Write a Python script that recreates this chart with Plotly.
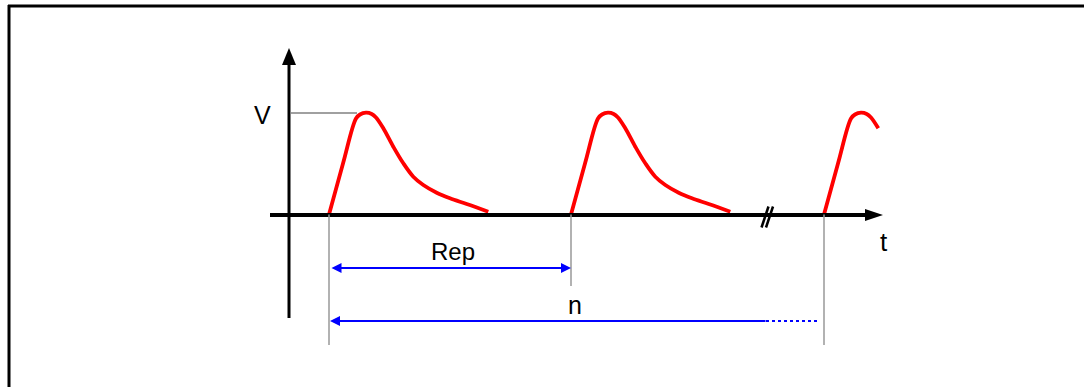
import plotly.graph_objects as go

# units: t to the right of the V axis, v above the t axis (roughly screen pixels)
pulse_t = [0, 14, 27, 31, 37, 42.7, 47, 54.3, 64.3, 74.3, 84.3, 94.3, 107.7, 121, 137.7, 159.3]
pulse_v = [0, 51, 96, 100, 101.8, 100.5, 97, 86.2, 67.8, 51.2, 37.8, 29.5, 21.8, 16.2, 10.5, 2.8]
pulse_starts = [40, 282, 535]
pulse_npts = [16, 16, 8]  # last pulse is cut off at the edge
peak_v = 101.5
break_t = 478

fig = go.Figure()

for t0, npts in zip(pulse_starts, pulse_npts):
    fig.add_trace(go.Scatter(
        x=[t0 + t for t in pulse_t[:npts]], y=pulse_v[:npts],
        mode="lines", line=dict(color="#ff0000", width=3.8, shape="spline", smoothing=1.0),
        hoverinfo="skip"))

black = "#000000"
gray = "#999999"
blue = "#0000ff"

shapes = []
# frame of the figure box (top and left edges visible)
shapes.append(dict(type="line", xref="paper", yref="paper", x0=8 / 1084, x1=1, y0=1 - 6 / 387, y1=1 - 6 / 387,
                   line=dict(color=black, width=3)))
shapes.append(dict(type="line", xref="paper", yref="paper", x0=9 / 1084, x1=9 / 1084, y0=0, y1=1 - 5 / 387,
                   line=dict(color=black, width=3)))
# axes
shapes.append(dict(type="line", x0=0, x1=0, y0=-103.5, y1=152, line=dict(color=black, width=3)))
shapes.append(dict(type="path", path="M 0 166.5 L -7 149.5 L 7 149.5 Z", fillcolor=black, line=dict(width=0)))
shapes.append(dict(type="line", x0=-19, x1=580, y0=-0.5, y1=-0.5, line=dict(color=black, width=4)))
shapes.append(dict(type="path", path="M 594 -0.5 L 576 -6.5 L 576 5.5 Z", fillcolor=black, line=dict(width=0)))
# break mark on the t axis
for dx in [0, 4.5]:
    shapes.append(dict(type="line", x0=break_t - 5.5 + dx, x1=break_t + 1.5 + dx, y0=-13, y1=8,
                       line=dict(color=black, width=2.5)))
# V level guide
shapes.append(dict(type="line", x0=1, x1=68, y0=peak_v, y1=peak_v, line=dict(color="#808080", width=1.5)))
# gray markers down from pulse starts
shapes.append(dict(type="line", x0=pulse_starts[0], x1=pulse_starts[0], y0=0, y1=-130.5, line=dict(color=gray, width=1.5)))
shapes.append(dict(type="line", x0=pulse_starts[1], x1=pulse_starts[1], y0=0, y1=-71.5, line=dict(color=gray, width=1.5)))
shapes.append(dict(type="line", x0=pulse_starts[2], x1=pulse_starts[2], y0=0, y1=-130.5, line=dict(color=gray, width=1.5)))
# dotted tail of the n arrow
shapes.append(dict(type="line", x0=break_t - 1, x1=pulse_starts[2] - 4, y0=-106.5, y1=-106.5,
                   line=dict(color=blue, width=2, dash="dot")))
fig.update_layout(shapes=shapes)

font = dict(family="Arial, Liberation Sans, sans-serif", color=black)
ann = []
# Rep double arrow
ann.append(dict(x=pulse_starts[1], y=-53.5, ax=pulse_starts[0] + 1, ay=-53.5, xref="x", yref="y", axref="x", ayref="y",
                text="", showarrow=True, arrowhead=2, arrowsize=1, arrowwidth=2, arrowcolor=blue,
                arrowside="end+start", standoff=0, startstandoff=0, startarrowhead=2))
# n arrow, solid part with start head
ann.append(dict(x=pulse_starts[0] + 1, y=-106.5, ax=break_t, ay=-106.5, xref="x", yref="y", axref="x", ayref="y",
                text="", showarrow=True, arrowhead=2, arrowsize=1, arrowwidth=2, arrowcolor=blue, standoff=0))
ann.append(dict(x=pulse_starts[2], y=-106.5, ax=pulse_starts[2] - 4, ay=-106.5, xref="x", yref="y", axref="x", ayref="y",
                text="", showarrow=True, arrowhead=2, arrowsize=1, arrowwidth=2, arrowcolor=blue, standoff=0))
# labels
ann.append(dict(x=-27, y=100, text="V", showarrow=False, font=dict(size=25, **font)))
ann.append(dict(x=595, y=-27.5, text="t", showarrow=False, font=dict(size=26, **font)))
ann.append(dict(x=164, y=-36.5, text="Rep", showarrow=False, font=dict(size=24, **font)))
ann.append(dict(x=286, y=-90, text="n", showarrow=False, font=dict(size=25, **font)))
fig.update_layout(annotations=ann)

fig.update_layout(
    width=1084, height=387,
    margin=dict(l=0, r=0, t=0, b=0),
    paper_bgcolor="white", plot_bgcolor="white",
    showlegend=False,
    xaxis=dict(range=[-289, 795], visible=False, fixedrange=True),
    yaxis=dict(range=[-172.5, 214.5], visible=False, fixedrange=True),
)

# drop the page's default 8px body margin so the figure sits at the window corner
fig.write_html("out.html", config={"displayModeBar": False},
               post_script="document.body.style.margin='0';")
